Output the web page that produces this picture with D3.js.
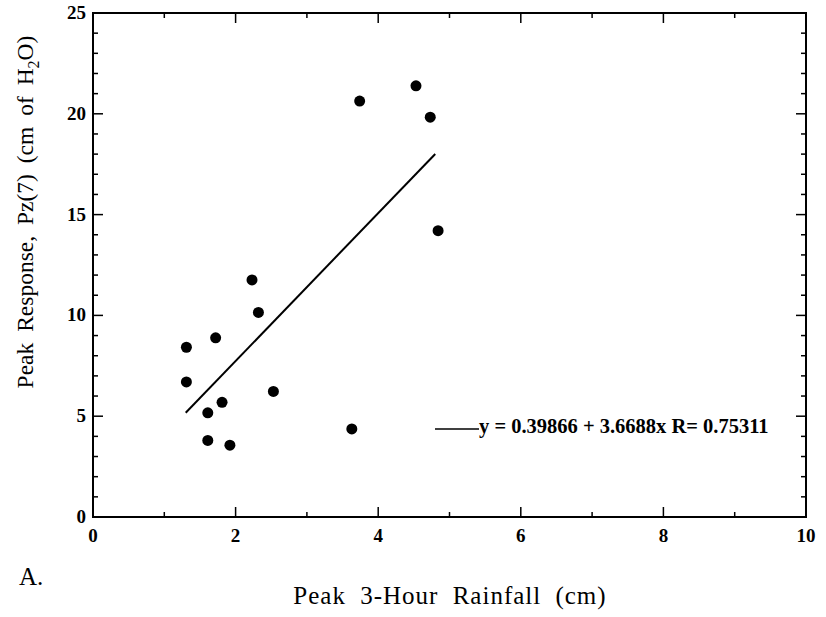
<!DOCTYPE html>
<html lang="en">
<meta charset="utf-8">

<head>
    <title>Peak response vs rainfall</title>
    <script src="https://d3js.org/d3.v7.min.js"></script>
    <style>
        body { margin: 0; background: #fff; }
        svg text { font-family: "Liberation Serif", "DejaVu Serif", serif; fill: #000; }
    </style>
</head>

<body>
    <div id="plot"></div>
    <script>
        // values
        var rainfall = [1.31, 1.31, 1.72, 1.61, 1.81, 1.61, 1.92, 2.23, 2.32, 2.53, 3.63, 3.74, 4.53, 4.73, 4.84];
        var response = [8.42, 6.70, 8.89, 5.17, 5.69, 3.80, 3.56, 11.76, 10.15, 6.23, 4.37, 20.63, 21.39, 19.83, 14.2];
        var fitIntercept = 0.39866, fitSlope = 3.6688, fitR = 0.75311;
        var fitRange = [1.3, 4.8];
        var xTicks = [0, 2, 4, 6, 8, 10];
        var yTicks = [0, 5, 10, 15, 20, 25];

        var W = 826, H = 617;
        // note: "top" is taken by window.top, so plot edges get a prefix
        var plotLeft = 93, plotRight = 806, plotTop = 13, plotBottom = 517;

        var svg = d3.select("#plot").append("svg")
            .attr("width", W)
            .attr("height", H);

        var x = d3.scaleLinear().domain([0, 10]).range([plotLeft, plotRight]);
        var y = d3.scaleLinear().domain([0, 25]).range([plotBottom, plotTop]);

        // ticks pointing inward, on all four sides
        var g = svg.append("g").attr("stroke", "#000");
        d3.range(0, 11).forEach(function (v) {
            var len = v % 2 == 0 ? 10 : 5;
            g.append("line").attr("x1", x(v)).attr("x2", x(v)).attr("y1", plotBottom).attr("y2", plotBottom - len).attr("stroke-width", 1.5);
            g.append("line").attr("x1", x(v)).attr("x2", x(v)).attr("y1", plotTop).attr("y2", plotTop + len).attr("stroke-width", 1.5);
        });
        d3.range(0, 26).forEach(function (v) {
            var len = v % 5 == 0 ? 10 : 5;
            g.append("line").attr("y1", y(v)).attr("y2", y(v)).attr("x1", plotLeft).attr("x2", plotLeft + len).attr("stroke-width", 1.5);
            g.append("line").attr("y1", y(v)).attr("y2", y(v)).attr("x1", plotRight).attr("x2", plotRight - len).attr("stroke-width", 1.5);
        });

        svg.append("rect")
            .attr("x", plotLeft).attr("y", plotTop)
            .attr("width", plotRight - plotLeft).attr("height", plotBottom - plotTop)
            .attr("fill", "none").attr("stroke", "#000").attr("stroke-width", 2);

        // tick labels
        svg.selectAll(".xt").data(xTicks).enter().append("text")
            .attr("x", function (d) { return x(d); })
            .attr("y", plotBottom + 25)
            .attr("text-anchor", "middle")
            .style("font-size", "19px").style("font-weight", "bold")
            .text(function (d) { return d; });
        svg.selectAll(".yt").data(yTicks).enter().append("text")
            .attr("x", plotLeft - 7)
            .attr("y", function (d) { return y(d) + 6; })
            .attr("text-anchor", "end")
            .style("font-size", "19px").style("font-weight", "bold")
            .text(function (d) { return d; });

        // regression line
        svg.append("line")
            .attr("x1", x(fitRange[0])).attr("y1", y(fitIntercept + fitSlope * fitRange[0]))
            .attr("x2", x(fitRange[1])).attr("y2", y(fitIntercept + fitSlope * fitRange[1]))
            .attr("stroke", "#000").attr("stroke-width", 2);

        // points
        svg.selectAll("circle").data(rainfall).enter().append("circle")
            .attr("cx", function (d) { return x(d); })
            .attr("cy", function (d, i) { return y(response[i]); })
            .attr("r", 5.5)
            .attr("fill", "#000");

        // legend
        svg.append("line")
            .attr("x1", 435).attr("x2", 479).attr("y1", 429).attr("y2", 429)
            .attr("stroke", "#000").attr("stroke-width", 1.5);
        svg.append("text")
            .attr("x", 479).attr("y", 433)
            .style("font-size", "20.5px").style("font-weight", "bold")
            .text("y = " + fitIntercept + " + " + fitSlope + "x R= " + fitR);

        // axis titles
        svg.append("text")
            .attr("x", 450).attr("y", 604)
            .attr("text-anchor", "middle")
            .style("font-size", "25px").style("letter-spacing", "1px").style("word-spacing", "7px")
            .text("Peak 3-Hour Rainfall (cm)");

        var yl = svg.append("text")
            .attr("transform", "translate(33,212) rotate(-90)")
            .attr("text-anchor", "middle")
            .style("font-size", "23.5px").style("word-spacing", "5px");
        yl.append("tspan").text("Peak Response, Pz(7) (cm of H");
        yl.append("tspan").attr("dy", 6).style("font-size", "16px").text("2");
        yl.append("tspan").attr("dy", -6).text("O)");

        svg.append("text")
            .attr("x", 19).attr("y", 585)
            .style("font-size", "25px")
            .text("A.");
    </script>
</body>

</html>
